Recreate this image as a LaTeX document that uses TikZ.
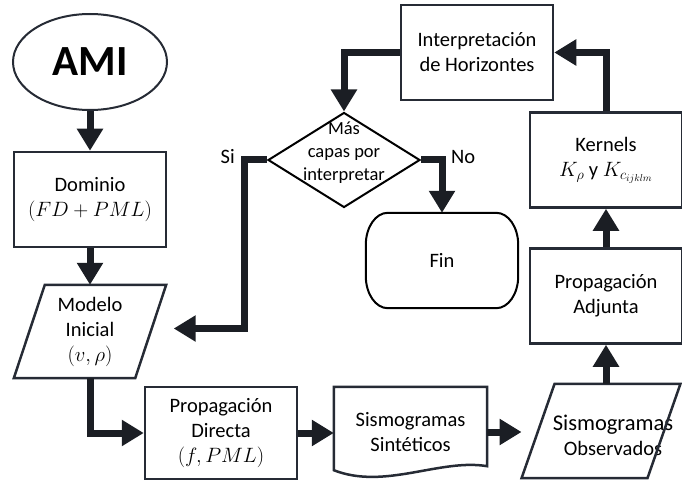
\documentclass[tikz,border=0pt]{standalone}
\usepackage{fontspec}
\setmainfont{Carlito}
\usetikzlibrary{shapes.geometric,positioning,arrows.meta}
\definecolor{boxline}{HTML}{262B35}
\definecolor{flowline}{HTML}{1B1E24}
\tikzset{
>={Triangle[width=25pt,length=22pt]},
font=\fontsize{20.5pt}{25pt}\selectfont,
every node/.style={align=center},
proc/.style={draw=boxline, line width=2.5pt, minimum width=152pt, minimum height=95pt, inner sep=0pt},
datos/.style={minimum height=93pt, inner sep=0pt},
outline/.style={draw=boxline, line width=2.5pt},
flow/.style={->, draw=flowline, line width=7pt},
}

\begin{document}
\begin{tikzpicture}[x=1pt,y=1pt]
    \useasboundingbox (0,0) rectangle (682,-481);
    \node[ellipse, draw=boxline, line width=2pt, minimum width=154pt, minimum height=96pt,
          font=\fontsize{43pt}{43pt}\selectfont\bfseries] (AMI) at (90,-62) {AMI};

    %left
    \node[proc, below of=AMI, node distance=137.5pt] (Dom) {Dominio\\$(FD+PML)$};
    \node[datos, below of=Dom, node distance=132pt, minimum width=121pt] (Mod) {Modelo\\Inicial\\$(v,\rho)$};

    %bottom
    \node[proc, right of=Mod, node distance=131pt, yshift=-101.5pt, minimum height=92pt] (Dir) {Propagación\\Directa\\$(f,PML)$};
    \node[minimum width=153pt, minimum height=90pt, inner sep=0pt, right of=Dir, node distance=189.5pt, yshift=1pt] (Sin) {Sismogramas\\Sintéticos};
    \node[datos, right of=Sin, node distance=190.5pt, yshift=1pt, minimum width=125.5pt, minimum height=94pt,
          label={[xshift=12pt, yshift=-4pt]center:{\fontsize{22.5pt}{26pt}\selectfont Sismogramas}\\Observados}] (Obs) {};

    %right
    \node[proc, above of=Obs, node distance=135pt, xshift=5pt] (Adj) {Propagación\\Adjunta};
    \node[proc, above of=Adj, node distance=136pt] (Ker) {Kernels\\$K_\rho$ y $K_{c_{ijklm}}$};
    \node[proc, left of=Ker, node distance=129pt, yshift=107.5pt] (Int) {Interpretación\\de Horizontes};

    %middle
    \node[diamond, draw=black, line width=2pt, minimum width=152pt, minimum height=95pt, inner sep=0pt,
          left of=Ker, node distance=262pt,
          label={[yshift=7pt, font=\fontsize{18.5pt}{23pt}\selectfont]center:Más\\capas por\\interpretar}] (Mas) {};
    \node[anchor=east, inner sep=0pt] (Si) at ([xshift=-32pt,yshift=3pt]Mas.west) {Si};
    \node[anchor=west, inner sep=0pt] (No) at ([xshift=30pt,yshift=3pt]Mas.east) {No};
    \node[minimum width=152pt, minimum height=95pt, inner sep=0pt, below of=Mas, node distance=100.5pt, xshift=98pt] (Fin) {Fin};

    % outlines
    \draw[outline] ([xshift=15.5pt]Mod.north west) -- ([xshift=15.5pt]Mod.north east)
        -- ([xshift=-15.5pt]Mod.south east) -- ([xshift=-15.5pt]Mod.south west) -- cycle;
    \draw[outline] ([xshift=16.5pt]Obs.north west) -- ([xshift=16.5pt]Obs.north east)
        -- ([xshift=-16.5pt]Obs.south east) -- ([xshift=-16.5pt]Obs.south west) -- cycle;
    \draw[black, line width=2pt] ([xshift=22pt]Fin.north west) -- ([xshift=-22pt]Fin.north east)
        arc[start angle=90, end angle=0, x radius=22pt, y radius=32pt] -- ([yshift=32pt]Fin.south east)
        arc[start angle=0, end angle=-90, x radius=22pt, y radius=32pt] -- ([xshift=22pt]Fin.south west)
        arc[start angle=270, end angle=180, x radius=22pt, y radius=32pt] -- ([yshift=-32pt]Fin.north west)
        arc[start angle=180, end angle=90, x radius=22pt, y radius=32pt] -- cycle;
    \draw[outline] ([yshift=7pt]Sin.south west) -- (Sin.north west) -- (Sin.north east)
        -- ([yshift=11pt]Sin.south east)
        .. controls ([xshift=-47pt,yshift=19pt]Sin.south east) and ([xshift=51pt,yshift=-13pt]Sin.south west)
        .. ([yshift=7pt]Sin.south west) -- cycle;

    \draw[flow] (AMI.south) -- (AMI.south |- Dom.north);
    \draw[flow] (Dom.south) -- (Dom.south |- Mod.north);
    \draw[flow] (Mod.south) |- (Dir.west);
    \draw[flow] (Dir.east) -- (Dir.east -| Sin.west);
    \draw[flow, shorten >=16.5pt] (Sin.east) -- (Sin.east -| Obs.west);
    \draw[flow] (Obs.north -| Adj.south) -- (Adj.south);
    \draw[flow] (Adj.north) -- (Ker.south);
    \draw[flow] (Ker.north) |- (Int.east);
    \draw[flow] (Int.west) -| (Mas.north);
    \draw[flow] (Mas.west) -- ++(-23pt,0) |- ([xshift=23pt,yshift=3pt]Mod.east);
    \draw[flow] (Mas.east) -| (Fin.north);

\end{tikzpicture}
\end{document}
